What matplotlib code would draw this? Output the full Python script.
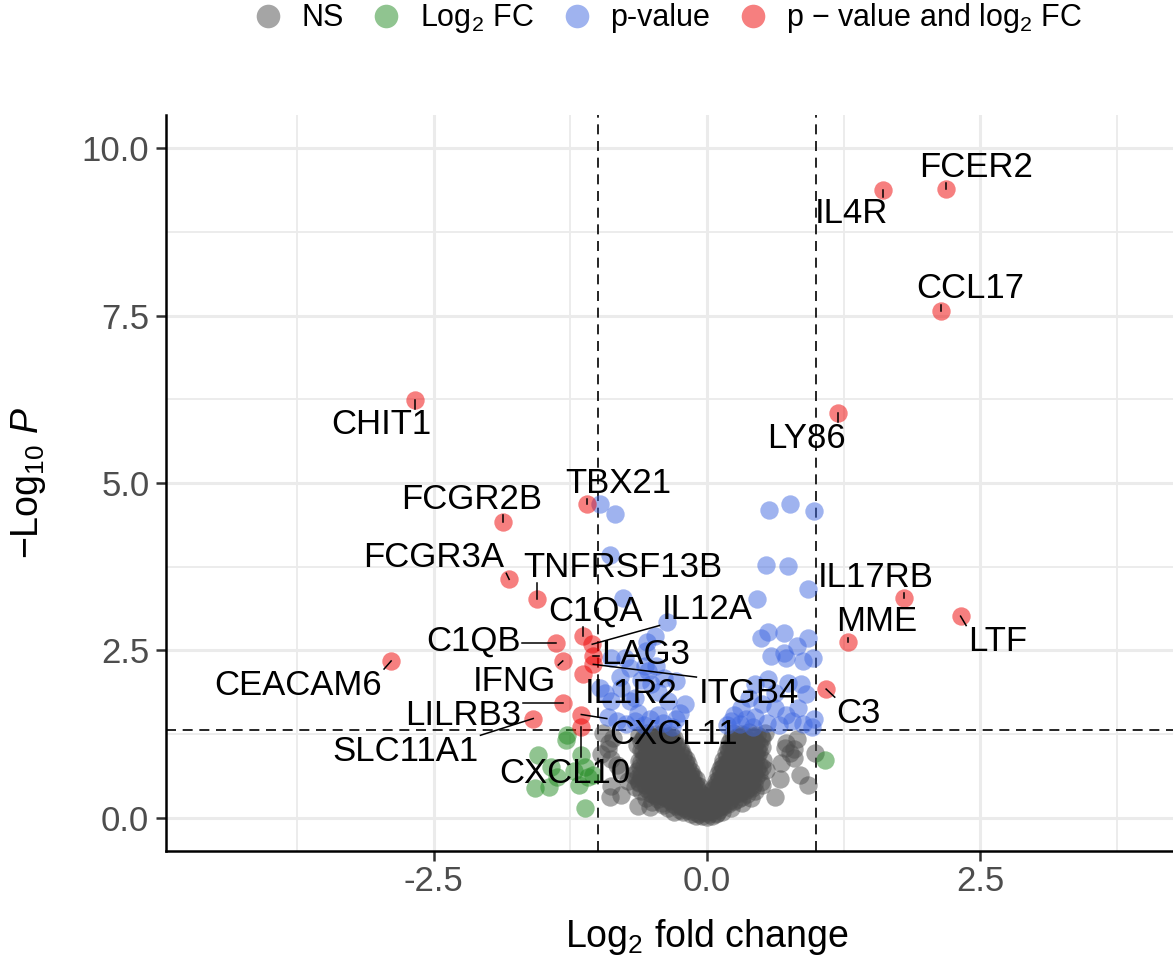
import numpy as np
import matplotlib.pyplot as plt
from matplotlib.lines import Line2D

plt.rcParams['font.family'] = ['Liberation Sans', 'DejaVu Sans']
plt.rcParams['mathtext.fontset'] = 'custom'
plt.rcParams['mathtext.rm'] = 'Liberation Sans'
plt.rcParams['mathtext.it'] = 'Liberation Sans:italic'
plt.rcParams['mathtext.bf'] = 'Liberation Sans:bold'

# labelled genes (significant on both p-value and fold change)
genes = ['FCER2', 'IL4R', 'CCL17', 'LY86', 'CHIT1', 'TBX21', 'FCGR2B', 'FCGR3A',
         'TNFRSF13B', 'IL17RB', 'LTF', 'MME', 'C1QB', 'C1QA', 'IL12A', 'LAG3',
         'CEACAM6', 'IFNG', 'ITGB4', 'IL1R2', 'C3', 'LILRB3', 'SLC11A1', 'CXCL11', 'CXCL10']
gene_lfc = [2.19, 1.61, 2.14, 1.20, -2.67, -1.10, -1.87, -1.81,
            -1.56, 1.80, 2.32, 1.29, -1.38, -1.13, -1.05, -1.04,
            -2.89, -1.32, -1.04, -1.13, 1.09, -1.32, -1.59, -1.15, -1.15]
gene_p = [9.39, 9.38, 7.57, 6.04, 6.24, 4.68, 4.42, 3.56,
          3.27, 3.28, 3.01, 2.62, 2.61, 2.71, 2.59, 2.41,
          2.34, 2.34, 2.29, 2.14, 1.92, 1.71, 1.48, 1.54, 1.36]

# p-value only
pval_lfc = [-0.98, -0.84, 0.57, 0.76, 0.98, -0.89, 0.54, 0.74, 0.92,
            -0.77, 0.46, -0.37, 0.56, 0.70, 0.49, 0.92, 0.82, 0.70, 0.59, 0.97,
            -0.48, -0.55, -0.56, -0.88, -0.75,
            -0.98, -0.88, -0.91, -0.79, -0.70, -0.63, -0.51, -0.47, -0.57, -0.39,
            -0.36, -0.25, -0.45, 0.72, 0.88, 0.44, 0.56, 0.74, 0.86, 0.31, 0.25,
            0.50, 0.62, 0.72, 0.83, 0.98, 0.44, 0.38, 0.62,
            -0.82, -0.74, -0.66, -0.58, -0.52, -0.40, -0.32, -0.28, 0.18, 0.22,
            0.30, 0.36, 0.42, 0.55, 0.66, 0.78, 0.88, 0.96,
            -0.70, -0.54, -0.28, -0.66, -0.93, 0.91, -0.60, -0.80, -0.20, -0.45]
pval_p = [4.69, 4.53, 4.60, 4.69, 4.58, 3.93, 3.78, 3.76, 3.41,
          3.28, 3.27, 2.93, 2.78, 2.76, 2.68, 2.69, 2.56, 2.46, 2.41, 2.38,
          2.71, 2.63, 2.49, 2.38, 2.38,
          1.93, 1.74, 1.51, 1.93, 1.74, 1.56, 1.99, 2.26, 2.26, 2.08,
          1.74, 1.56, 1.54, 2.38, 2.34, 1.99, 2.07, 2.01, 1.99, 1.63, 1.54,
          1.69, 1.63, 1.54, 1.63, 1.48, 1.51, 1.78, 1.86,
          1.45, 1.40, 1.44, 1.38, 1.48, 1.42, 1.36, 1.47, 1.38, 1.45,
          1.40, 1.47, 1.36, 1.42, 1.38, 1.44, 1.40, 1.35,
          2.23, 2.19, 2.04, 1.78, 1.86, 1.84, 2.05, 2.10, 1.70, 1.88]

# fold change only
fc_lfc = [-1.28, -1.29, -1.55, -1.15, -1.43, -1.37, -1.57, -1.45,
          -1.12, -1.09, -1.17, -1.04, -1.12, 1.08, -1.22]
fc_p = [1.24, 1.16, 0.94, 0.94, 0.76, 0.60, 0.44, 0.46,
        0.76, 0.61, 0.49, 0.64, 0.15, 0.86, 0.70]

# not significant
ns_lfc = [-0.95, -0.62, -0.55, -0.47, -0.40, -0.33, 0.24, 0.31, 0.38, 0.46, 0.53,
          -0.86, -0.59, -0.51, -0.44, -0.37, -0.30, 0.22, 0.29, 0.36, 0.43, 0.50, 0.82,
          -0.90, -0.64, -0.56, -0.48, -0.41, -0.34, -0.27, 0.20, 0.27, 0.34, 0.41, 0.48, 0.72,
          -0.91, -0.60, -0.52, -0.45, -0.38, -0.31, -0.24, 0.19, 0.25, 0.32, 0.39, 0.46, 0.71, 0.80, 0.99,
          -0.97, -0.56, -0.49, -0.42, -0.35, -0.28, -0.22, 0.17, 0.23, 0.30, 0.37, 0.44, 0.76,
          -0.88, -0.62, -0.54, -0.46, -0.39, -0.32, -0.25, -0.19, 0.15, 0.21, 0.28, 0.35, 0.42, 0.51, 0.80,
          -0.82, -0.58, -0.50, -0.43, -0.36, -0.29, -0.23, -0.17, 0.14, 0.19, 0.26, 0.33, 0.40, 0.48, 0.68,
          -0.80, -0.64, -0.55, -0.47, -0.40, -0.33, -0.26, -0.20, -0.15, 0.12, 0.17, 0.24, 0.31, 0.38, 0.46, 0.54,
          -0.68, -0.60, -0.52, -0.44, -0.37, -0.30, -0.23, -0.17, -0.13, 0.10, 0.15, 0.21, 0.28, 0.35, 0.43, 0.67, 0.85,
          -0.72, -0.62, -0.54, -0.46, -0.39, -0.32, -0.25, -0.19, -0.14, -0.10, 0.08, 0.13, 0.19, 0.26, 0.33, 0.41, 0.49,
          -0.88, -0.66, -0.57, -0.49, -0.41, -0.34, -0.27, -0.21, -0.15, -0.10, -0.07, 0.06, 0.11, 0.17, 0.24, 0.31, 0.39, 0.50, 0.92,
          -0.60, -0.52, -0.44, -0.37, -0.30, -0.23, -0.17, -0.12, -0.07, 0.05, 0.09, 0.15, 0.21, 0.28, 0.36, 0.44,
          -0.89, -0.79, -0.56, -0.47, -0.39, -0.32, -0.25, -0.19, -0.13, -0.08, -0.04, 0.03, 0.07, 0.12, 0.18, 0.25, 0.32, 0.40, 0.62,
          -0.50, -0.41, -0.33, -0.26, -0.19, -0.13, -0.08, -0.03, 0.02, 0.07, 0.12, 0.18, 0.25, 0.32,
          -0.63, -0.52, -0.36, -0.28, -0.21, -0.15, -0.10, -0.05, 0.00, 0.05, 0.10, 0.15, 0.22,
          -0.30, -0.22, -0.15, -0.09, -0.04, 0.00, 0.04, 0.09, 0.14,
          -0.10, -0.05, 0.00, 0.05,
          -0.58, -0.50, -0.43, -0.36, 0.27, 0.34, 0.41, 0.49,
          -0.60, -0.52, -0.45, -0.38, -0.31, 0.24, 0.31, 0.38, 0.45,
          -0.56, -0.49, -0.42, -0.35, -0.28, 0.22, 0.29, 0.36, 0.43, 0.50,
          -0.59, -0.52, -0.45, -0.38, -0.31, -0.25, 0.20, 0.27, 0.34, 0.41, 0.48,
          -0.58, -0.50, -0.43, -0.36, -0.29, -0.22, 0.18, 0.25, 0.32, 0.39, 0.46,
          -0.60, -0.53, -0.46, -0.39, -0.32, -0.26, -0.20, 0.17, 0.23, 0.30, 0.37, 0.44,
          -0.61, -0.53, -0.45, -0.38, -0.31, -0.24, -0.18, 0.15, 0.21, 0.28, 0.35, 0.42, 0.50,
          -0.60, -0.51, -0.43, -0.36, -0.29, -0.22, -0.16, 0.13, 0.19, 0.26, 0.33, 0.40, 0.48,
          -0.64, -0.56, -0.48, -0.41, -0.34, -0.27, -0.21, -0.15, 0.11, 0.17, 0.24, 0.31, 0.38, 0.45,
          -0.62, -0.53, -0.45, -0.37, -0.30, -0.23, -0.17, -0.12, 0.09, 0.15, 0.21, 0.28, 0.35, 0.43,
          -0.55, -0.47, -0.39, -0.32, -0.25, -0.19, -0.13, -0.09, 0.07, 0.12, 0.18, 0.25, 0.33, 0.41,
          -0.50, -0.42, -0.34, -0.27, -0.21, -0.15, -0.10, 0.04, 0.10, 0.16, 0.23, 0.30, 0.37,
          -0.45, -0.37, -0.29, -0.22, -0.16, -0.10, -0.05, 0.01, 0.05, 0.10, 0.15, 0.21, 0.28,
          -0.40, -0.31, -0.24, -0.17, -0.11, -0.06, -0.01, 0.03, 0.08, 0.13, 0.19,
          -0.25, -0.18, -0.12, -0.06, 0.02, 0.07, 0.11,
          -0.15, -0.07, 0.02, 0.08]
ns_p = [1.26, 1.24, 1.27, 1.25, 1.28, 1.24, 1.27, 1.25, 1.28, 1.24, 1.26,
        1.19, 1.17, 1.20, 1.18, 1.21, 1.19, 1.17, 1.20, 1.18, 1.21, 1.19, 1.17,
        1.11, 1.09, 1.12, 1.10, 1.13, 1.11, 1.09, 1.12, 1.10, 1.13, 1.11, 1.09, 1.12,
        1.03, 1.01, 1.04, 1.02, 1.05, 1.03, 1.01, 1.04, 1.02, 1.05, 1.03, 1.01, 1.04, 1.02, 0.96,
        0.95, 0.93, 0.96, 0.94, 0.97, 0.95, 0.93, 0.96, 0.94, 0.97, 0.95, 0.93, 0.96,
        0.87, 0.85, 0.88, 0.86, 0.89, 0.87, 0.85, 0.88, 0.86, 0.89, 0.87, 0.85, 0.88, 0.86, 0.89,
        0.79, 0.77, 0.80, 0.78, 0.81, 0.79, 0.77, 0.80, 0.78, 0.81, 0.79, 0.77, 0.80, 0.78, 0.81,
        0.71, 0.69, 0.72, 0.70, 0.73, 0.71, 0.69, 0.72, 0.70, 0.73, 0.71, 0.69, 0.72, 0.70, 0.73, 0.71,
        0.63, 0.61, 0.64, 0.62, 0.65, 0.63, 0.61, 0.64, 0.62, 0.65, 0.63, 0.61, 0.64, 0.62, 0.65, 0.58, 0.63,
        0.55, 0.53, 0.56, 0.54, 0.57, 0.55, 0.53, 0.56, 0.54, 0.57, 0.55, 0.53, 0.56, 0.54, 0.57, 0.55, 0.53,
        0.47, 0.45, 0.48, 0.46, 0.49, 0.47, 0.45, 0.48, 0.46, 0.49, 0.47, 0.45, 0.48, 0.46, 0.49, 0.47, 0.45, 0.48, 0.49,
        0.39, 0.37, 0.40, 0.38, 0.41, 0.39, 0.37, 0.40, 0.38, 0.41, 0.39, 0.37, 0.40, 0.38, 0.41, 0.39,
        0.31, 0.34, 0.29, 0.32, 0.30, 0.33, 0.31, 0.29, 0.32, 0.30, 0.33, 0.31, 0.29, 0.32, 0.30, 0.33, 0.31, 0.29, 0.30,
        0.23, 0.21, 0.24, 0.22, 0.25, 0.23, 0.21, 0.24, 0.22, 0.25, 0.23, 0.21, 0.24, 0.22,
        0.18, 0.16, 0.15, 0.17, 0.14, 0.16, 0.15, 0.17, 0.14, 0.16, 0.15, 0.17, 0.14,
        0.09, 0.08, 0.10, 0.07, 0.09, 0.08, 0.10, 0.07, 0.09,
        0.03, 0.02, 0.01, 0.03,
        1.22, 1.21, 1.23, 1.22, 1.21, 1.23, 1.22, 1.21,
        1.14, 1.15, 1.13, 1.14, 1.15, 1.13, 1.14, 1.15, 1.13,
        1.06, 1.07, 1.05, 1.06, 1.07, 1.05, 1.06, 1.07, 1.05, 1.06,
        0.99, 0.98, 1.00, 0.99, 0.98, 1.00, 0.99, 0.98, 1.00, 0.99, 0.98,
        0.91, 0.92, 0.90, 0.91, 0.92, 0.90, 0.91, 0.92, 0.90, 0.91, 0.92,
        0.83, 0.82, 0.84, 0.83, 0.82, 0.84, 0.83, 0.82, 0.84, 0.83, 0.82, 0.84,
        0.75, 0.76, 0.74, 0.75, 0.76, 0.74, 0.75, 0.76, 0.74, 0.75, 0.76, 0.74, 0.75,
        0.67, 0.66, 0.68, 0.67, 0.66, 0.68, 0.67, 0.66, 0.68, 0.67, 0.66, 0.68, 0.67,
        0.59, 0.60, 0.58, 0.59, 0.60, 0.58, 0.59, 0.60, 0.58, 0.59, 0.60, 0.58, 0.59, 0.60,
        0.51, 0.50, 0.52, 0.51, 0.50, 0.52, 0.51, 0.50, 0.52, 0.51, 0.50, 0.52, 0.51, 0.50,
        0.43, 0.44, 0.42, 0.43, 0.44, 0.42, 0.43, 0.44, 0.42, 0.43, 0.44, 0.42, 0.43, 0.44,
        0.35, 0.34, 0.36, 0.35, 0.34, 0.36, 0.35, 0.34, 0.36, 0.35, 0.34, 0.36, 0.35,
        0.27, 0.28, 0.26, 0.27, 0.28, 0.26, 0.27, 0.28, 0.26, 0.27, 0.28, 0.26, 0.27,
        0.19, 0.20, 0.18, 0.19, 0.20, 0.18, 0.19, 0.20, 0.18, 0.19, 0.20,
        0.12, 0.11, 0.13, 0.12, 0.11, 0.13, 0.12,
        0.05, 0.06, 0.05, 0.06]

# where each repelled label sits (data units)
label_xy = {
    'FCER2': (2.46, 9.72), 'IL4R': (1.32, 9.03), 'CCL17': (2.41, 7.90), 'LY86': (0.91, 5.67),
    'CHIT1': (-2.98, 5.87), 'TBX21': (-0.81, 5.00), 'FCGR2B': (-2.15, 4.76), 'FCGR3A': (-2.50, 3.89),
    'TNFRSF13B': (-0.77, 3.74), 'C1QA': (-1.02, 3.08), 'IL12A': (0.0, 3.11), 'LAG3': (-0.56, 2.44),
    'C1QB': (-2.14, 2.63), 'IFNG': (-1.76, 2.04), 'IL1R2': (-0.69, 1.86), 'ITGB4': (0.38, 1.86),
    'CEACAM6': (-3.74, 1.98), 'LILRB3': (-2.23, 1.52), 'SLC11A1': (-2.76, 0.99), 'CXCL11': (-0.31, 1.24),
    'CXCL10': (-1.30, 0.66), 'IL17RB': (1.54, 3.59), 'MME': (1.55, 2.93), 'LTF': (2.66, 2.63),
    'C3': (1.39, 1.56),
}

FC_CUT = 1.0
P_CUT = -np.log10(0.05)
cols = {'NS': '#4D4D4D', 'FC': '#228B22', 'P': '#4169E1', 'BOTH': '#EE0000'}

fig = plt.figure(figsize=(11.73, 9.61), dpi=100)
# panel runs past the right edge of the figure, as in the cropped export
ax = fig.add_axes([166 / 1173, 110 / 961, 1082 / 1173, 736 / 961])

pt = 175
ax.scatter(ns_lfc, ns_p, s=pt, color=cols['NS'], alpha=0.5, lw=0, zorder=3)
ax.scatter(fc_lfc, fc_p, s=pt, color=cols['FC'], alpha=0.5, lw=0, zorder=3)
ax.scatter(pval_lfc, pval_p, s=pt, color=cols['P'], alpha=0.5, lw=0, zorder=3)
ax.scatter(gene_lfc, gene_p, s=pt, color=cols['BOTH'], alpha=0.5, lw=0, zorder=3)

dash = (0, (6, 4))
ax.axvline(-FC_CUT, color='black', lw=1.2, ls=dash, zorder=2)
ax.axvline(FC_CUT, color='black', lw=1.2, ls=dash, zorder=2)
ax.axhline(P_CUT, color='black', lw=1.2, ls=dash, zorder=2)

ax.set_xlim(-4.95, 4.95)
ax.set_ylim(-0.5, 10.5)
ax.set_xticks([-2.5, 0.0, 2.5])
ax.set_xticklabels(['-2.5', '0.0', '2.5'])
ax.set_yticks([0.0, 2.5, 5.0, 7.5, 10.0])
ax.set_yticklabels(['0.0', '2.5', '5.0', '7.5', '10.0'])
ax.set_xticks([-3.75, -1.25, 1.25, 3.75], minor=True)
ax.set_yticks([1.25, 3.75, 6.25, 8.75], minor=True)
ax.grid(which='major', color='#EBEBEB', lw=2.2, zorder=0)
ax.grid(which='minor', color='#EBEBEB', lw=1.3, zorder=0)
ax.set_axisbelow(True)

for s in ['top', 'right']:
    ax.spines[s].set_visible(False)
for s in ['left', 'bottom']:
    ax.spines[s].set_linewidth(1.8)
    ax.spines[s].set_color('black')
ax.tick_params(which='major', length=7, width=1.8, color='#333333',
               labelsize=25, labelcolor='#4D4D4D')
ax.tick_params(axis='y', pad=5)
ax.tick_params(axis='x', pad=3)
ax.tick_params(which='minor', length=0)

ax.set_xlabel('Log$_2$ fold change', fontsize=27, labelpad=14)
ax.set_ylabel('\u2212Log$_{10}$ $\\mathit{P}$', fontsize=27, labelpad=24)

texts = []
for g in genes:
    tx, ty = label_xy[g]
    texts.append(ax.text(tx, ty, g, fontsize=25, ha='center', va='center', zorder=5))

# connectors from each point to the nearest edge of its label
fig.canvas.draw()
renderer = fig.canvas.get_renderer()
inv = ax.transData.inverted()
for t, gx, gy in zip(texts, gene_lfc, gene_p):
    bb = t.get_window_extent(renderer).expanded(1.0, 0.85)
    px, py = ax.transData.transform((gx, gy))
    cx = min(max(px, bb.x0 - 2), bb.x1 + 2)
    cy = min(max(py, bb.y0 - 2), bb.y1 + 2)
    if np.hypot(cx - px, cy - py) > 3:
        (dx0, dy0), (dx1, dy1) = inv.transform([(px, py), (cx, cy)])
        ax.plot([dx0, dx1], [dy0, dy1], color='black', lw=1.1, zorder=4)

handles = [Line2D([], [], ls='', marker='o', ms=17, mew=0, alpha=0.5, color=cols[k])
           for k in ['NS', 'FC', 'P', 'BOTH']]
legend_labels = ['NS', 'Log$_2$ FC', 'p-value', 'p \u2212 value and log$_2$ FC']
fig.legend(handles, legend_labels, loc='center', bbox_to_anchor=(0.569, 0.981),
           ncol=4, frameon=False, fontsize=22, handlelength=1.0,
           handletextpad=0.6, columnspacing=0.9)

fig.savefig('out.png', dpi=100)
